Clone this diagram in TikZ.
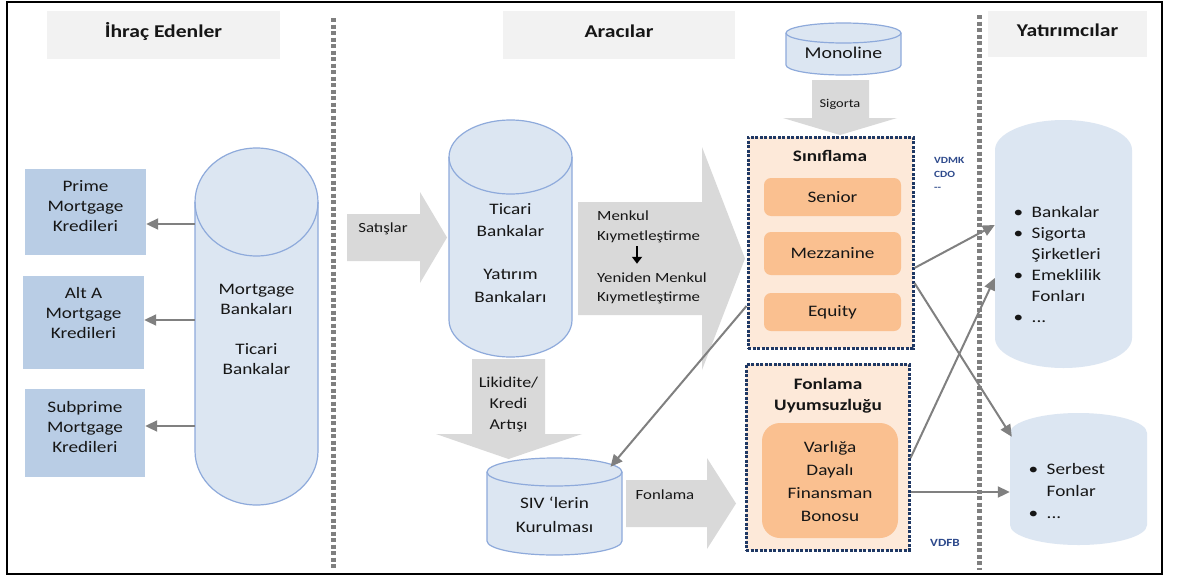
\documentclass[tikz,border=0pt]{standalone}
\usepackage{fontspec}
\setmainfont{Carlito}[FakeStretch=1.2]
\usetikzlibrary{arrows.meta,calc}

\definecolor{ink}{HTML}{161616}
\definecolor{headgray}{HTML}{F2F2F2}
\definecolor{loanblue}{HTML}{B9CDE5}
\definecolor{drumfill}{HTML}{DCE6F2}
\definecolor{drumline}{HTML}{8EAADB}
\definecolor{flowgray}{HTML}{D9D9D9}
\definecolor{linkgray}{HTML}{808080}
\definecolor{sepgray}{HTML}{7F7F7F}
\definecolor{peach}{HTML}{FDE9D9}
\definecolor{tranche}{HTML}{FAC090}
\definecolor{navy}{HTML}{1F3864}
\definecolor{tagblue}{HTML}{2E4A8C}

\newcommand\fs[2]{\fontsize{#1}{#2}\selectfont}

% drum (cylinder) body: name, cx, rx, top rim centre y, ry, base centre y, style
\newcommand\drum[7]{%
  \path[#7] ({#2-#3},#4) -- ({#2-#3},#6)
    arc[start angle=180,end angle=360,x radius=#3pt,y radius=#5pt]
    -- ({#2+#3},#4)
    arc[start angle=0,end angle=180,x radius=#3pt,y radius=#5pt] -- cycle;
  \node[minimum width={2*#3}, minimum height={#6-#4+2*#5}] (#1) at (#2,{(#4+#6)/2}) {};
}
% front edge of a drum's top rim: cx, rx, rim centre y, ry
\newcommand\drumrim[4]{%
  \draw[drumedge] ({#1-#2},#3) arc[start angle=180,end angle=360,x radius=#2pt,y radius=#4pt];
}

\begin{document}
\begin{tikzpicture}[x=1pt,y=-1pt,
  every node/.style={inner sep=0pt},
  lbl/.style={text=ink, align=center, font=\fs{16}{20}},
  headbox/.style={fill=headgray},
  loanbox/.style={fill=loanblue},
  drumedge/.style={draw=drumline, line width=1.2pt},
  drumbody/.style={fill=drumfill, drumedge},
  drumsoft/.style={fill=drumfill},
  flow/.style={fill=flowgray},
  conn/.style={draw=linkgray, line width=2pt, -{Triangle[length=12pt,width=11pt]}},
  divider/.style={draw=sepgray, line width=5pt, dash pattern=on 4pt off 2.5pt},
  groupbox/.style={draw=navy, fill=peach, line width=3pt, dash pattern=on 3pt off 1.5pt},
  tranchebox/.style={fill=tranche, rounded corners=7pt, text=ink, font=\fs{16}{20}},
]
\useasboundingbox (0,0) rectangle (1177,581);
\fill[white] (0,0) rectangle (1177,581);

% column dividers
\draw[divider] (333,18) -- (333,570);
\draw[divider] (979,15) -- (979,570);

% column headers
\node[headbox, minimum width=233, minimum height=48] (hdrA) at (163.5,35) {};
\node[headbox, minimum width=232, minimum height=48] (hdrB) at (619,35) {};
\node[headbox, minimum width=159, minimum height=46] (hdrC) at (1067.5,34) {};
\node[lbl, font=\fs{18}{22}\bfseries] (hdrAt) at (163.5,31) {İhraç Edenler};
\node[lbl, font=\fs{18}{22}\bfseries] (hdrBt) at (619,31) {Aracılar};
\node[lbl, font=\fs{18}{22}\bfseries] (hdrCt) at (1067.5,30) {Yatırımcılar};

% loan types
\node[loanbox, minimum width=121, minimum height=86] (prime) at (85.5,212) {};
\node[loanbox, minimum width=121, minimum height=93] (alta) at (83.5,322.5) {};
\node[loanbox, minimum width=120, minimum height=88] (subp) at (85,433) {};
\node[lbl] (primet) at (85.5,206.5) {Prime\\Mortgage\\Kredileri};
\node[lbl] (altat) at (83.5,312.5) {Alt A\\Mortgage\\Kredileri};
\node[lbl] (subpt) at (85,426.5) {Subprime\\Mortgage\\Kredileri};

% issuers
\drum{mort}{256.5}{61.5}{202}{54}{451}{drumbody}
\drumrim{256.5}{61.5}{202}{54}
\node[lbl] (mortt) at (256.5,329.5) {Mortgage\\Bankaları\\[20pt]Ticari\\Bankalar};

\draw[conn] (mort.west |- 0,224) -- (prime.east |- 0,224);
\draw[conn] (mort.west |- 0,320) -- (alta.east |- 0,320);
\draw[conn] (mort.west |- 0,426) -- (subp.east |- 0,426);

% flow arrows
\path[flow] (347,214) -- (420,214) -- (420,192) -- (447,237.5) -- (420,283) -- (420,261) -- (347,261) -- cycle;
\path[flow] (578,202) -- (702,202) -- (702,147) -- (745,258.5) -- (702,370) -- (702,315) -- (578,315) -- cycle;
\path[flow] (472,359) -- (545,359) -- (545,434) -- (582,434) -- (508.5,459) -- (436,434) -- (472,434) -- cycle;
\path[flow] (812,80) -- (869,80) -- (869,118) -- (897,118) -- (840,135) -- (783,118) -- (812,118) -- cycle;
\path[flow] (626,480) -- (707,480) -- (707,458) -- (736,503.5) -- (707,549) -- (707,527) -- (626,527) -- cycle;

\node[lbl, font=\fs{14}{18}] (sales) at (383,229) {Satışlar};
\node[lbl, font=\fs{14}{20}, align=left, anchor=west] (menk1) at (597,227) {Menkul\\Kıymetleştirme};
\node[lbl, font=\fs{14}{19}, align=left, anchor=west] (menk2) at (597,288.5) {Yeniden Menkul\\Kıymetleştirme};
\draw[black, line width=1.8pt, -{Triangle[length=7pt,width=10pt]}, shorten <=3pt, shorten >=9pt]
  (menk1.south -| 637,0) -- (menk2.north -| 637,0);
\node[lbl, font=\fs{15}{21}] (liq) at (508.5,405) {Likidite/\\Kredi\\Artışı};
\node[lbl, font=\fs{12}{14}] (ins) at (840,104) {Sigorta};
\node[lbl, font=\fs{14}{18}] (fund) at (665,495) {Fonlama};

% intermediaries
\drum{ticari}{510.5}{61.5}{157}{37}{320}{drumbody}
\drumrim{510.5}{61.5}{157}{37}
\node[lbl, font=\fs{16}{22.5}] (ticarit) at (510.5,253) {Ticari\\Bankalar\\[20.5pt]Yatırım\\Bankaları};

\drum{mono}{843.5}{57.5}{33}{10}{65}{drumbody}
\drumrim{843.5}{57.5}{33}{10}
\node[lbl, font=\fs{16.5}{20}] (monot) at (843.5,53) {Monoline};

\drum{siv}{554.5}{67.5}{472}{14}{541}{drumbody}
\drumrim{554.5}{67.5}{472}{14}
\node[lbl, font=\fs{16}{24}] (sivt) at (554.5,514.5) {SIV ‘lerin\\Kurulması};

% tranching
\node[groupbox, minimum width=165, minimum height=211] (sinif) at (830.5,242.5) {};
\node[lbl, font=\fs{16}{20}\bfseries] (siniflt) at (830,156) {Sınıflama};
\node[tranchebox, minimum width=137, minimum height=38] (senior) at (832.5,197) {Senior};
\node[tranchebox, minimum width=137, minimum height=43] (mezz) at (832.5,253.5) {Mezzanine};
\node[tranchebox, minimum width=137, minimum height=38] (equity) at (832.5,312) {Equity};

% funding mismatch
\node[groupbox, minimum width=163, minimum height=186] (fonbox) at (827.5,457) {};
\node[lbl, font=\fs{16}{21}\bfseries] (fontt) at (828,396) {Fonlama\\Uyumsuzluğu};
\node[tranchebox, rounded corners=18pt, minimum width=136, minimum height=115] (vdfb) at (830,480.5) {};
\node[lbl, font=\fs{16}{22.7}] (vdfbt) at (830,481.5) {Varlığa\\Dayalı\\Finansman\\Bonosu};

\node[lbl, font=\fs{9.5}{13.5}\bfseries, text=tagblue, align=left, anchor=west] (tags) at (934,174) {VDMK\\CDO\\{-}{-}};
\node[lbl, font=\fs{11}{13}\bfseries, text=tagblue] (vdfbtag) at (945,543) {VDFB};

% investors
\drum{inv1}{1063.5}{68.5}{150}{30}{338}{drumsoft}
\drum{inv2}{1078.5}{68.5}{433}{20}{525}{drumsoft}
\node[lbl, font=\fs{16}{21}, align=left, anchor=west] (inv1t) at (1013.5,265)
  {\makebox[18pt][l]{•}Bankalar\\\makebox[18pt][l]{•}Sigorta\\\makebox[18pt][l]{}Şirketleri\\\makebox[18pt][l]{•}Emeklilik\\\makebox[18pt][l]{}Fonları\\\makebox[18pt][l]{•}...};
\node[lbl, font=\fs{16}{22}, align=left, anchor=west] (inv2t) at (1028.5,490.5)
  {\makebox[18pt][l]{•}Serbest\\\makebox[18pt][l]{}Fonlar\\\makebox[18pt][l]{•}...};

% connectors
\draw[conn] (sinif.west |- 0,306) -- ($(siv.north)+(56,9)$);
\draw[conn] (sinif.east |- 0,268) -- (inv1.west |- 0,225);
\draw[conn] (sinif.east |- 0,283) -- ($(inv2.north west)+(2,24)$);
\draw[conn] (fonbox.east |- 0,458) -- (inv1.west |- 0,278);
\draw[conn] (fonbox.east |- 0,492) -- (inv2.west |- 0,492);

% outer frame
\draw[black, line width=2pt] (7,2) rectangle (1162,574);
\end{tikzpicture}
\end{document}
